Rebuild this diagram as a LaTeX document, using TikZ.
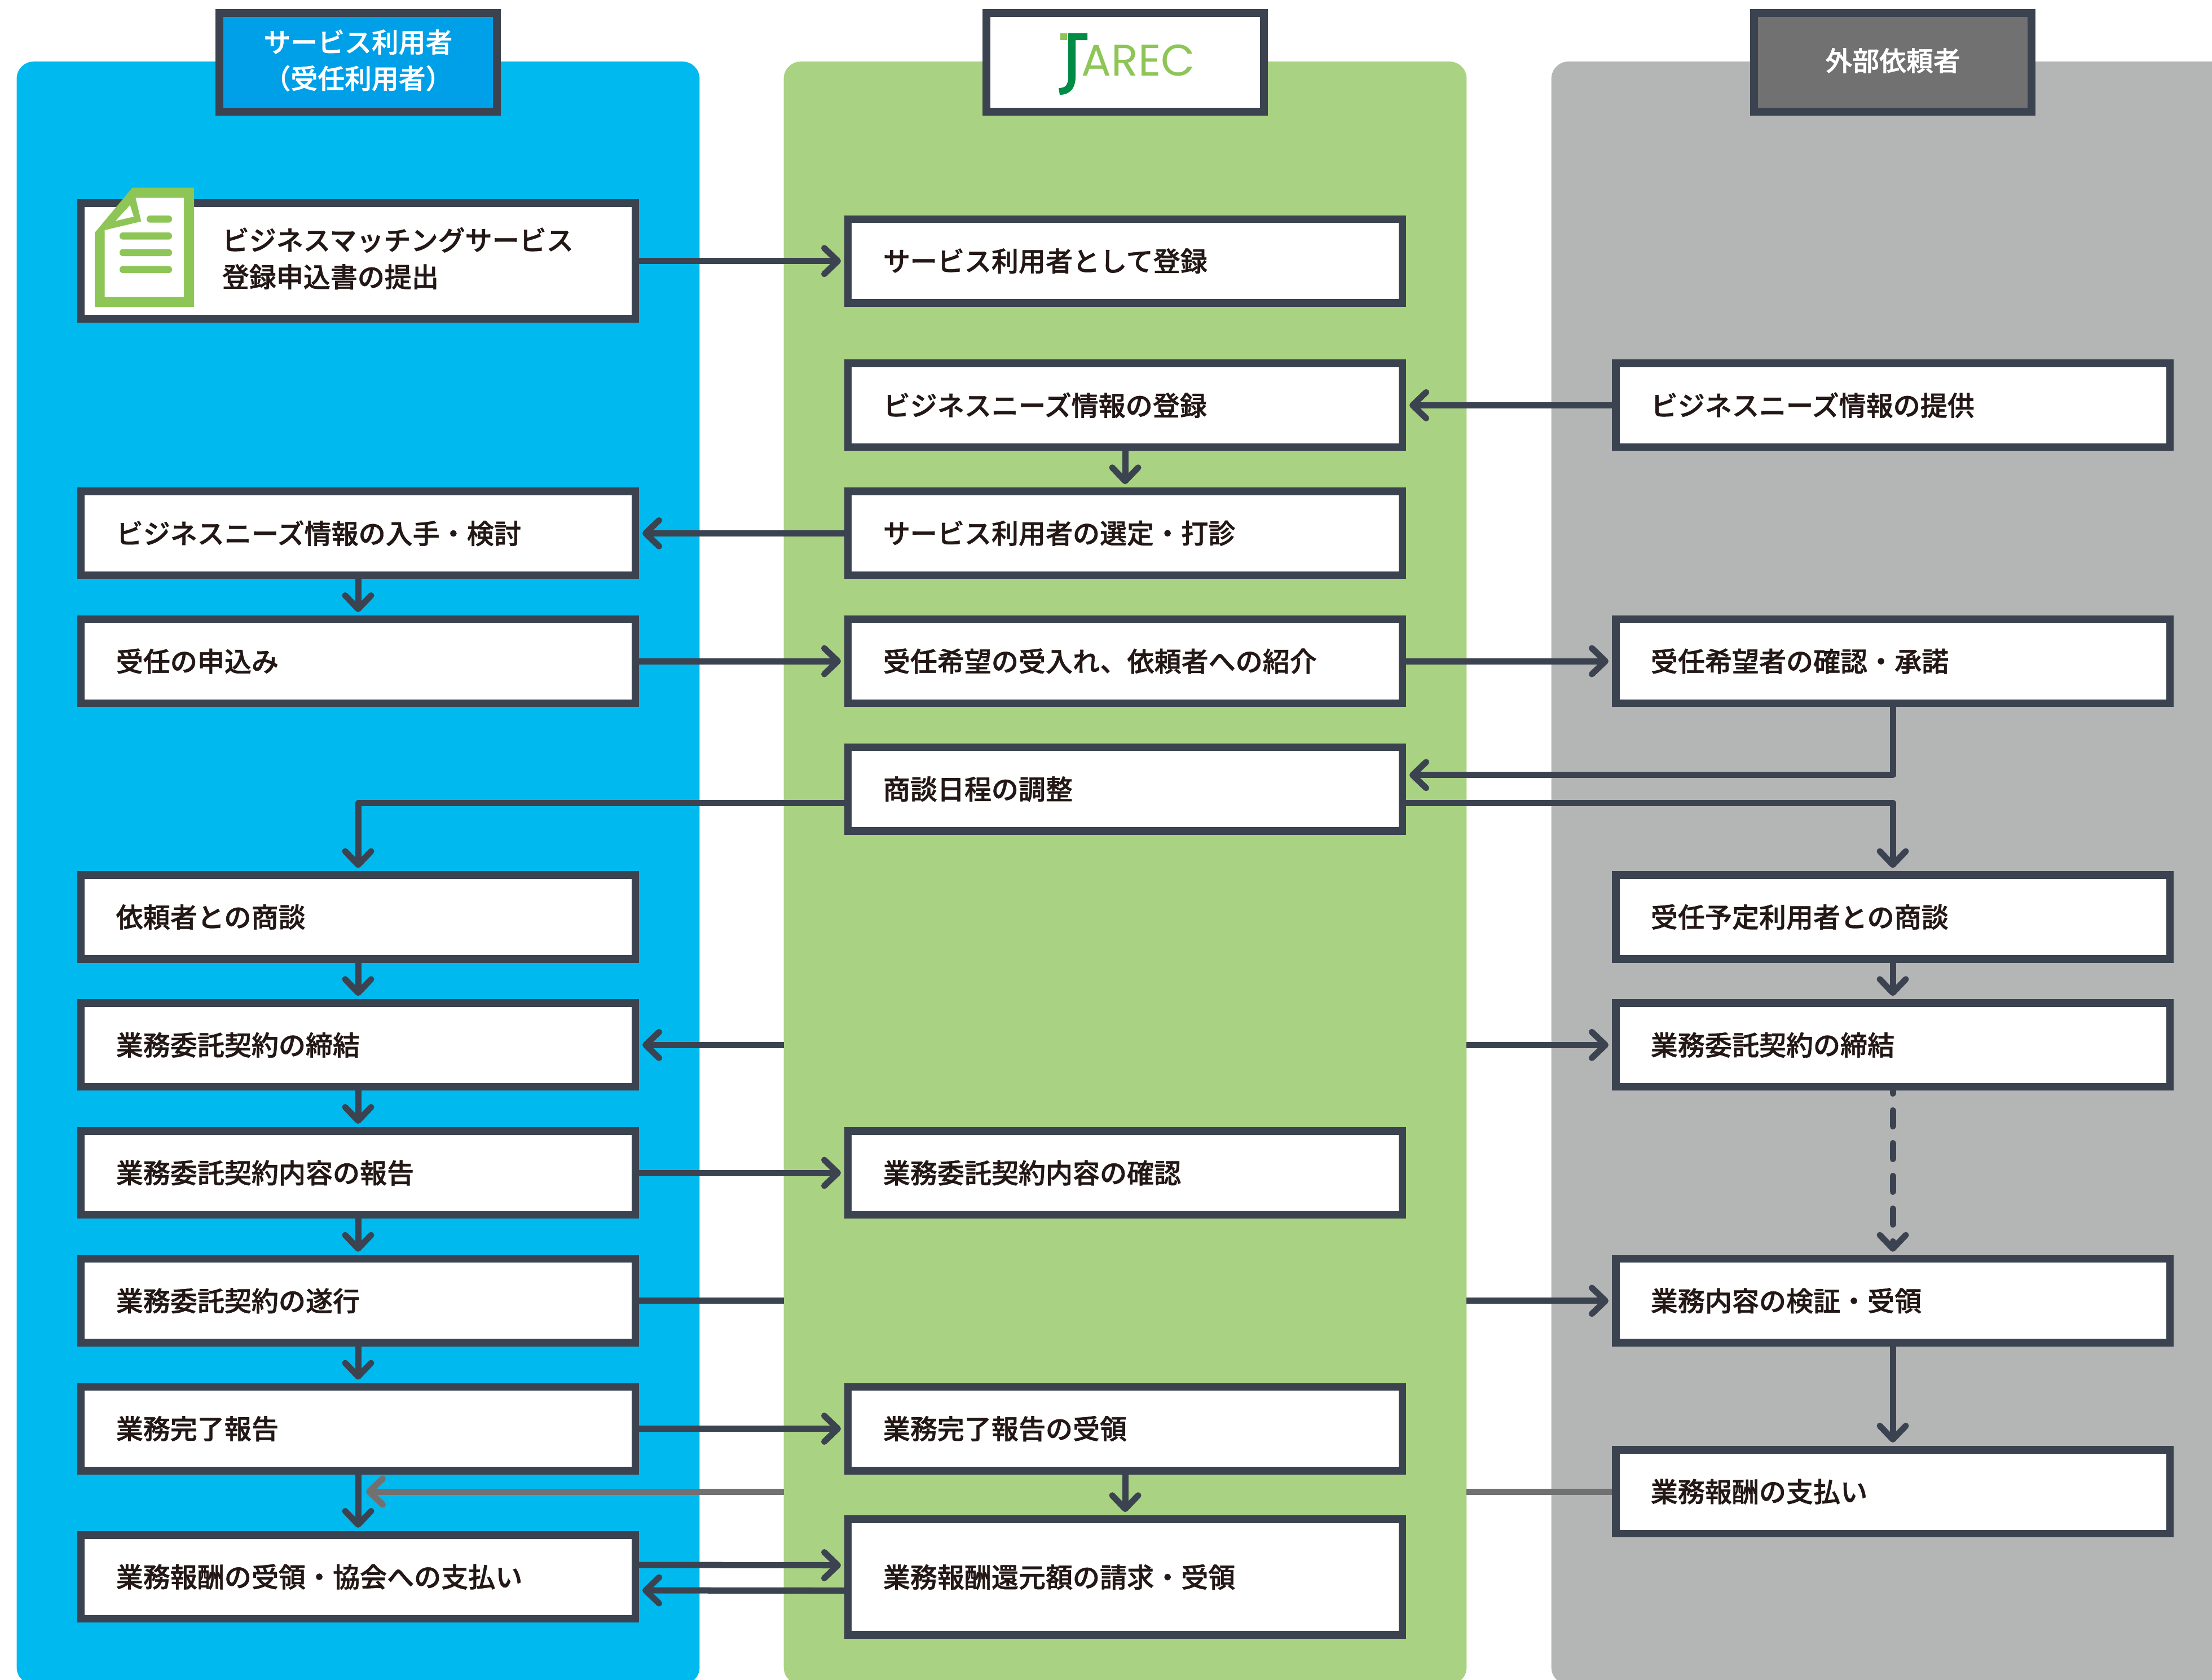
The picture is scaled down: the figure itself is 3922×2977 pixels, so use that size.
\documentclass[tikz,border=0pt]{standalone}
\usepackage{fontspec}
\usetikzlibrary{arrows.meta}
\newfontfamily\jpfont[FakeBold=1.2]{Noto Sans CJK JP Medium}
\newfontfamily\logofont{Poppins}
\definecolor{ink}{HTML}{3C4350}
\definecolor{txt}{HTML}{231815}
\definecolor{panelblue}{HTML}{00B9EF}
\definecolor{headblue}{HTML}{00A0E9}
\definecolor{panelgreen}{HTML}{A9D283}
\definecolor{panelgray}{HTML}{B4B5B5}
\definecolor{headgray}{HTML}{717171}
\definecolor{leaf}{HTML}{8DC556}
\definecolor{deepgreen}{HTML}{008C45}
\definecolor{backarrow}{HTML}{717171}
\tikzset{
  panel/.style={rounded corners=0.3cm,minimum width=12.1cm,minimum height=28.75cm,inner sep=0,outer sep=0},
  head/.style={draw=ink,line width=0.14cm,minimum width=4.92cm,minimum height=1.75cm,inner sep=0},
  headtext/.style={inner sep=0,align=center,text=white,font=\jpfont\fontsize{13.6}{18.3}\selectfont},
  box/.style={draw=ink,fill=white,line width=0.135cm,minimum width=9.82cm,minimum height=1.485cm,text width=8.58cm,inner xsep=0.62cm,inner ysep=0,align=left,text=txt,font=\jpfont\fontsize{13.66}{18.5}\selectfont},
  arw/.style={draw=ink,line width=0.11cm,line join=round,shorten >=0.06cm,-{Straight Barb[length=0.24cm,width=0.46cm,round]}},
  plainline/.style={draw=ink,line width=0.11cm},
}
\begin{document}
\begin{tikzpicture}[x=0.01cm,y=-0.01cm]
\useasboundingbox (0,0) rectangle (3922,2977);
\begin{scope}
\clip (0,0) rectangle (3922,2977);
% panels
\node[panel,fill=panelblue] (panelA) at (635,1547.5) {};
\node[panel,fill=panelgreen] (panelB) at (1995,1547.5) {};
\node[panel,fill=panelgray] (panelC) at (3356,1547.5) {};
% headers
\node[head,fill=headblue] (headA) at (635,110.5) {};
\node[head,fill=white] (headB) at (1995,110.5) {};
\node[head,fill=headgray] (headC) at (3356,110.5) {};
\node[headtext] (headAtext) at (635,107) {サービス利用者\\（受任利用者）};
\node[headtext] (headCtext) at (3356,107.5) {外部依頼者};
% logo
\fill[leaf] (1880,59) rectangle (1892,71);
\fill[deepgreen] (1894,59) -- (1928,59) -- (1928,71) -- (1907,71) -- (1907,135)
  .. controls (1907,158) and (1896,168) .. (1879,168) -- (1877,156)
  .. controls (1890,156) and (1894,150) .. (1894,135) -- cycle;
\node[anchor=base west,inner sep=0,text=leaf,font=\logofont\fontsize{22.3}{24}\selectfont] (logo) at (1917,134) {AREC};
% column A
\node[box,minimum height=2.05cm] (a1) at (635,462.5) {};
\node[box] (a3) at (635,945.3) {ビジネスニーズ情報の入手・検討};
\node[box] (a4) at (635,1172) {受任の申込み};
\node[box] (a6) at (635,1625.5) {依頼者との商談};
\node[box] (a7) at (635,1852.3) {業務委託契約の締結};
\node[box] (a8) at (635,2079) {業務委託契約内容の報告};
\node[box] (a9) at (635,2305.8) {業務委託契約の遂行};
\node[box] (a10) at (635,2532.5) {業務完了報告};
\node[box] (a11) at (635,2795) {業務報酬の受領・協会への支払い};
\node[anchor=west,inner sep=0,align=left,text=txt,font=\jpfont\fontsize{13.66}{18.5}\selectfont] (a1text) at (393,458) {ビジネスマッチングサービス\\登録申込書の提出};
% icon
\fill[leaf] (234.7,332.6) -- (344,332.6) -- (344,544) -- (168,544) -- (168,412.5) -- cycle;
\fill[white] (240.5,350.5) -- (326,350.5) -- (326,526) -- (185.7,526) -- (185.7,408) -- (250.4,392.6) -- cycle;
\fill[white] (230.5,363.6) -- (237,384) -- (205,391.5) -- cycle;
\fill[leaf,rounded corners=0.06cm] (260,382) rectangle (305,394.6);
\fill[leaf,rounded corners=0.06cm] (212,412) rectangle (305,424.6);
\fill[leaf,rounded corners=0.06cm] (212,441.5) rectangle (305,454);
\fill[leaf,rounded corners=0.06cm] (212,471.5) rectangle (305,484);
% column B
\node[box] (b1) at (1995,462.7) {サービス利用者として登録};
\node[box] (b2) at (1995,718.3) {ビジネスニーズ情報の登録};
\node[box] (b3) at (1995,945.3) {サービス利用者の選定・打診};
\node[box] (b4) at (1995,1172) {受任希望の受入れ、依頼者への紹介};
\node[box] (b5) at (1995,1398.8) {商談日程の調整};
\node[box] (b8) at (1995,2079) {業務委託契約内容の確認};
\node[box] (b10) at (1995,2532.5) {業務完了報告の受領};
\node[box,minimum height=2.05cm] (b11) at (1995,2795.5) {業務報酬還元額の請求・受領};
% column C
\node[box] (c2) at (3356,718.3) {ビジネスニーズ情報の提供};
\node[box] (c4) at (3356,1172) {受任希望者の確認・承諾};
\node[box] (c6) at (3356,1625.5) {受任予定利用者との商談};
\node[box] (c7) at (3356,1852.3) {業務委託契約の締結};
\node[box] (c9) at (3356,2305.8) {業務内容の検証・受領};
\node[box] (c10) at (3356,2644) {業務報酬の支払い};
\coordinate (greytip) at (649,2644);
% connectors
\draw[arw] (a1.east |- b1.west) -- (b1.west);
\draw[arw] (c2.west) -- (b2.east);
\draw[arw] (b2.south) -- (b3.north);
\draw[arw] (b3.west) -- (a3.east);
\draw[arw] (a3.south) -- (a4.north);
\draw[arw] (a4.east) -- (b4.west);
\draw[arw] (b4.east) -- (c4.west);
\draw[arw] (c4.south) |- ([yshift=0.25cm]b5.east);
\draw[arw] ([yshift=-0.25cm]b5.east) -| (c6.north);
\draw[arw] ([yshift=-0.25cm]b5.west) -| (a6.north);
\draw[arw] (a6.south) -- (a7.north);
\draw[arw] (a7.south) -- (a8.north);
\draw[arw] (a8.south) -- (a9.north);
\draw[arw] (a9.south) -- (a10.north);
\draw[arw] (a10.south) -- (a11.north);
\draw[arw] (c6.south) -- (c7.north);
\draw[arw,line cap=round,dash pattern=on 0.28cm off 0.30cm,dash phase=0.23cm] (c7.south) -- (c9.north);
\draw[arw] (c9.south) -- (c10.north);
\draw[arw] (panelB.west |- a7.east) -- (a7.east);
\draw[arw] (panelB.east |- c7.west) -- (c7.west);
\draw[arw] (a8.east) -- (b8.west);
\draw[plainline] (a9.east) -- (panelB.west |- a9.east);
\draw[arw] (panelB.east |- c9.west) -- (c9.west);
\draw[arw] (a10.east) -- (b10.west);
\draw[arw] (b10.south) -- (b11.north);
\draw[plainline,draw=backarrow] (c10.west) -- (panelB.east |- c10.west);
\draw[arw,draw=backarrow,shorten >=0pt] (panelB.west |- c10.west) -- (greytip);
\draw[arw] ([yshift=0.21cm]a11.east) -- ([yshift=0.21cm]b11.west);
\draw[arw] ([yshift=-0.24cm]b11.west) -- ([yshift=-0.24cm]a11.east);
\end{scope}
\end{tikzpicture}
\end{document}
